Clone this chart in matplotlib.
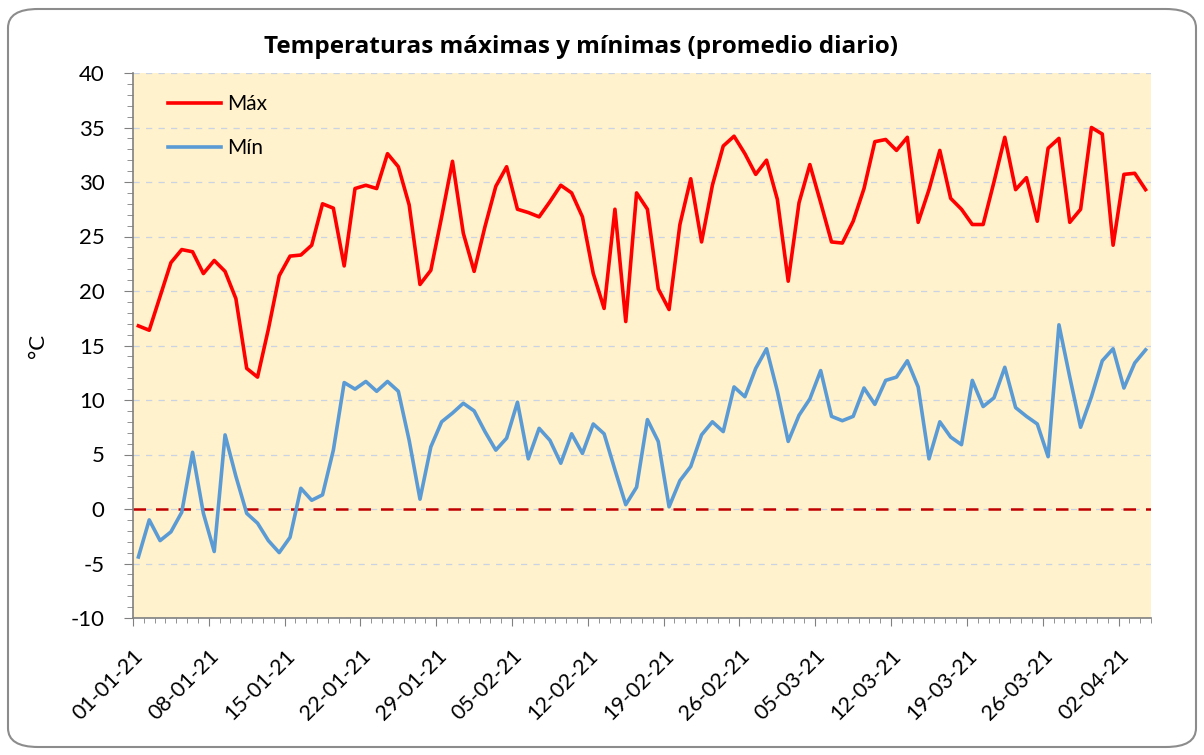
import matplotlib
matplotlib.use("Agg")
import matplotlib.pyplot as plt
from matplotlib.patches import FancyBboxPatch
from matplotlib.ticker import MultipleLocator, FixedLocator
import numpy as np
import datetime as dt

start_date = dt.date(2021, 1, 1)
tmax = [16.8, 16.4, 19.5, 22.6, 23.8, 23.6, 21.6, 22.8, 21.8, 19.3,
        12.9, 12.1, 16.5, 21.4, 23.2, 23.3, 24.2, 28.0, 27.6, 22.3,
        29.4, 29.7, 29.4, 32.6, 31.4, 27.9, 20.6, 21.9, 26.8, 31.9,
        25.3, 21.8, 25.9, 29.6, 31.4, 27.5, 27.2, 26.8, 28.2, 29.7,
        29.0, 26.8, 21.6, 18.4, 27.5, 17.2, 29.0, 27.5, 20.2, 18.3,
        26.1, 30.3, 24.5, 29.7, 33.3, 34.2, 32.6, 30.7, 32.0, 28.4,
        20.9, 28.1, 31.6, 28.1, 24.5, 24.4, 26.4, 29.4, 33.7, 33.9,
        32.9, 34.1, 26.3, 29.3, 32.9, 28.5, 27.5, 26.1, 26.1, 30.0,
        34.1, 29.3, 30.4, 26.4, 33.1, 34.0, 26.3, 27.5, 35.0, 34.4,
        24.2, 30.7, 30.8, 29.3]
tmin = [-4.4, -1.0, -2.9, -2.1, -0.3, 5.2, -0.4, -3.9, 6.8, 3.0,
        -0.4, -1.3, -2.9, -4.0, -2.6, 1.9, 0.8, 1.3, 5.4, 11.6,
        11.0, 11.7, 10.8, 11.7, 10.8, 6.3, 0.9, 5.7, 8.0, 8.8,
        9.7, 9.0, 7.1, 5.4, 6.5, 9.8, 4.6, 7.4, 6.3, 4.2,
        6.9, 5.1, 7.8, 6.9, 3.6, 0.4, 2.0, 8.2, 6.2, 0.2,
        2.6, 3.9, 6.8, 8.0, 7.1, 11.2, 10.3, 12.9, 14.7, 10.8,
        6.2, 8.6, 10.1, 12.7, 8.5, 8.1, 8.5, 11.1, 9.6, 11.8,
        12.1, 13.6, 11.2, 4.6, 8.0, 6.6, 5.9, 11.8, 9.4, 10.2,
        13.0, 9.3, 8.5, 7.8, 4.8, 16.9, 12.1, 7.5, 10.3, 13.6,
        14.7, 11.1, 13.4, 14.6]
series_labels = ["Máx", "Mín"]
title = "Temperaturas máximas y mínimas (promedio diario)"
ylabel = "°C"

n = len(tmax)
x = np.arange(n)
dates = [start_date + dt.timedelta(days=i) for i in range(n)]
major_idx = list(range(0, n, 7))
tick_labels = [dates[i].strftime("%d-%m-%y") for i in major_idx]

plt.rcParams['font.family'] = ['Lato', 'DejaVu Sans']
plt.rcParams['axes.unicode_minus'] = False

fig = plt.figure(figsize=(12.04, 7.55), dpi=100)
border = FancyBboxPatch((8/1204, 8/755), 1188/1204, 738/755,
                        boxstyle="round,pad=0,rounding_size=0.025",
                        transform=fig.transFigure, facecolor='white',
                        edgecolor='#8C8C8C', linewidth=1.5, zorder=-10)
fig.patches.append(border)

ax = fig.add_axes([133/1204, 1-618/755, (1151-133)/1204, (618-73)/755])
ax.set_facecolor('#FFF2CC')

ax.plot(x, tmax, color='#FF0000', lw=2.6, label=series_labels[0], zorder=3)
ax.plot(x, tmin, color='#5B9BD5', lw=2.6, label=series_labels[1], zorder=3)
ax.axhline(0, color='#C00000', lw=1.8, ls=(0, (5, 4)), zorder=2)

ax.set_xlim(-0.5, n - 0.5)
ax.set_ylim(-10, 40)
ax.yaxis.set_major_locator(MultipleLocator(5))
ax.yaxis.set_minor_locator(MultipleLocator(1))
ax.grid(axis='y', which='major', color='#C9D3E3', ls=(0, (5, 5)), lw=0.9, zorder=1)

ax.xaxis.set_major_locator(FixedLocator([i - 0.5 for i in major_idx]))
ax.xaxis.set_minor_locator(FixedLocator([i - 0.5 for i in range(n + 1)]))
ax.set_xticklabels(tick_labels, rotation=45, ha='right', rotation_mode='anchor',
                   fontsize=15.5)
ax.tick_params(axis='x', which='major', length=6, color='#808080', pad=14)
ax.tick_params(axis='x', which='minor', length=3.5, color='#808080')
ax.tick_params(axis='y', which='major', length=6.5, color='#808080', labelsize=16, pad=14)
ax.tick_params(axis='y', which='minor', length=4, color='#808080')

for side in ['top', 'right']:
    ax.spines[side].set_visible(False)
for side in ['left', 'bottom']:
    ax.spines[side].set_color('#808080')
    ax.spines[side].set_linewidth(1.2)

ax.set_ylabel(ylabel, fontsize=16)
ax.yaxis.set_label_coords((48-133)/1018, 0.5)
fig.text(581/1204, 1-47/755, title, fontsize=17.5, fontweight='bold',
         family=['Open Sans', 'DejaVu Sans'], ha='center', va='center')

leg = ax.legend(loc='upper left', bbox_to_anchor=(0.016, 0.995), frameon=False,
                fontsize=15, handlelength=2.55, labelspacing=1.15, handletextpad=0.3)

fig.savefig("out.png", dpi=100)
